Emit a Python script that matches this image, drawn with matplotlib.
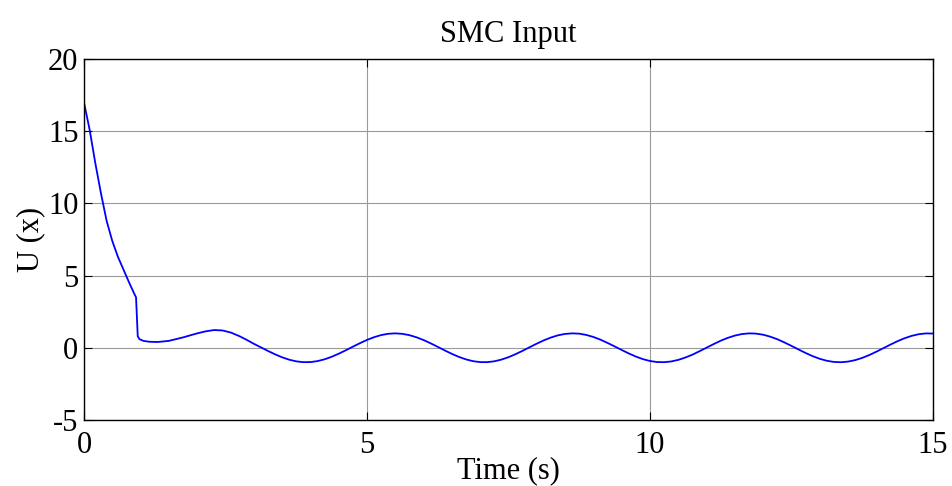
import matplotlib
matplotlib.use("Agg")
import matplotlib.pyplot as plt

# values (time in s, control input U)
time_s = [0.0, 0.1, 0.2, 0.3, 0.4, 0.5, 0.6, 0.7, 0.8, 0.9, 0.92, 0.95, 0.98,
          1.05, 1.15, 1.3, 1.5, 1.75, 2.0, 2.15, 2.3, 2.45, 2.6, 2.75, 2.875,
          3.0, 3.125, 3.25, 3.375, 3.5, 3.625, 3.75, 3.875,
          4.0, 4.125, 4.25, 4.375, 4.5, 4.625, 4.75, 4.875,
          5.0, 5.125, 5.25, 5.375, 5.5, 5.625, 5.75, 5.875,
          6.0, 6.125, 6.25, 6.375, 6.5, 6.625, 6.75, 6.875,
          7.0, 7.125, 7.25, 7.375, 7.5, 7.625, 7.75, 7.875,
          8.0, 8.125, 8.25, 8.375, 8.5, 8.625, 8.75, 8.875,
          9.0, 9.125, 9.25, 9.375, 9.5, 9.625, 9.75, 9.875,
          10.0, 10.125, 10.25, 10.375, 10.5, 10.625, 10.75, 10.875,
          11.0, 11.125, 11.25, 11.375, 11.5, 11.625, 11.75, 11.875,
          12.0, 12.125, 12.25, 12.375, 12.5, 12.625, 12.75, 12.875,
          13.0, 13.125, 13.25, 13.375, 13.5, 13.625, 13.75, 13.875,
          14.0, 14.125, 14.25, 14.375, 14.5, 14.625, 14.75, 14.875,
          15.0]
u_input = [17.0, 15.1, 12.8, 10.7, 8.8, 7.4, 6.3, 5.4, 4.5, 3.65, 3.5, 0.8, 0.6,
           0.48, 0.42, 0.40, 0.48, 0.72, 1.0, 1.14, 1.23, 1.2, 1.05, 0.8, 0.55,
           0.28, 0.033, -0.215, -0.450, -0.657, -0.823, -0.938, -0.994,
           -0.989, -0.922, -0.798, -0.624, -0.412, -0.173, 0.075, 0.319,
           0.544, 0.734, 0.880, 0.970, 1.0, 0.967, 0.875, 0.728,
           0.537, 0.311, 0.066, -0.183, -0.420, -0.632, -0.804, -0.926,
           -0.991, -0.994, -0.935, -0.818, -0.650, -0.442, -0.207, 0.042,
           0.288, 0.517, 0.712, 0.865, 0.961, 1.0, 0.980, 0.890,
           0.751, 0.564, 0.338, 0.099, -0.150, -0.390, -0.605, -0.784,
           -0.913, -0.986, -0.996, -0.946, -0.837, -0.675, -0.476, -0.238,
           0.009, 0.256, 0.492, 0.687, 0.846, 0.952, 0.999, 0.982,
           0.906, 0.772, 0.592, 0.373, 0.133, -0.117, -0.359, -0.579,
           -0.762, -0.899, -0.979, -0.999, -0.956, -0.854, -0.699, -0.501,
           -0.271, -0.024, 0.224, 0.459, 0.664, 0.828, 0.942, 0.996,
           0.988]

x_ticks = [0, 5, 10, 15]
y_ticks = [-5, 0, 5, 10, 15, 20]

plt.rcParams["font.family"] = ["Liberation Serif", "DejaVu Serif"]
plt.rcParams["font.size"] = 22
plt.rcParams["axes.unicode_minus"] = False

fig = plt.figure(figsize=(9.52, 4.86), dpi=100)
ax = fig.add_axes([0.0882, 0.1358, 0.8918, 0.7428])

ax.plot(time_s, u_input, color="#0000ff", lw=1.3)

ax.set_xlim(0, 15)
ax.set_ylim(-5, 20)
ax.set_xticks(x_ticks)
ax.set_yticks(y_ticks)
ax.grid(True, color="#9a9a9a", lw=0.8)
ax.tick_params(direction="in", length=6, width=0.8, top=True, right=True,
               labelsize=22, pad=4)
ax.tick_params(axis="x", pad=8)
for s in ax.spines.values():
    s.set_linewidth(1.0)

ax.set_title("SMC Input", fontsize=22, pad=12)
ax.set_xlabel("Time (s)", fontsize=22, labelpad=-3)
ax.set_ylabel("U (x)", fontsize=22, labelpad=2)

fig.savefig("out.png", dpi=100)
